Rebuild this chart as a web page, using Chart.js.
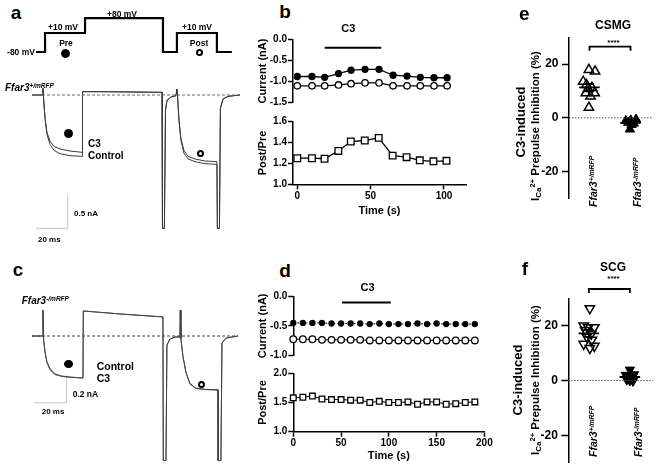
<!DOCTYPE html>
<html>
<head>
<meta charset="utf-8">
<script src="https://cdn.jsdelivr.net/npm/chart.js@4.4.1/dist/chart.umd.min.js"></script>
<style>
  body { margin: 0; background: #fff; }
  #fig { position: relative; width: 660px; height: 476px; overflow: hidden; background: #fff;
         font-family: "Liberation Sans", Arial, Helvetica, sans-serif; font-weight: bold; color: #000; }
  #fig canvas { position: absolute; }
  .t { position: absolute; white-space: nowrap; line-height: 1; }
  .t .up { font-size: 0.65em; position: relative; top: -0.5em; }
  .t .dn { font-size: 0.7em; position: relative; top: 0.3em; }
  .dot { position: absolute; border-radius: 50%; box-sizing: border-box; }
</style>
</head>
<body>
<div id="fig"></div>
<script>
// ---- panel a : voltage protocol (ms, mV), vertices of the step trace ----
const protoTime = [-4.4, 1.3, 1.3, 26.5, 26.5, 75.6, 75.6, 84.4, 84.4, 109.6, 109.6, 119];
const protoVolt = [-80, -80, 10, 10, 80, 80, -80, -80, 10, 10, -80, -80];

// ---- panel a : current traces, Ffar3+/mRFP (ms, nA) ----
const aTime = [-6.9, -0.6, 0, 0.3, 1.3, 2.5, 4.4, 6.9, 10.7, 17, 24.6, 24.9, 36, 75, 75.3, 76.5, 77.2, 78.1, 80.6, 83.8,
               84.4, 84.8, 85.7, 86.9, 88.8, 91.4, 95.8, 102.1, 109.6, 109.9, 111.2, 111.8, 113.4, 116.6, 124.1];
const aC3 = [0, 0, 0.1, -0.03, -0.35, -0.56, -0.69, -0.77, -0.81, -0.84, -0.86, 0.05, 0.05, 0.04, -2.0, -2.0, -0.23, -0.08, -0.03, -0.01,
             0.09, -0.02, -0.38, -0.65, -0.83, -0.92, -0.96, -0.99, -1.0, -2.0, -2.0, -0.2, -0.06, -0.02, 0];
const aControl = [0, 0, 0.1, -0.03, -0.35, -0.59, -0.74, -0.83, -0.88, -0.91, -0.92, 0.05, 0.05, 0.04, -2.0, -2.0, -0.23, -0.09, -0.03, -0.01,
                  0.09, -0.02, -0.38, -0.68, -0.87, -0.96, -1.0, -1.03, -1.04, -2.0, -2.0, -0.2, -0.06, -0.02, 0];
const aBarX = [-4.4, 15.6, 15.6];     // 20 ms
const aBarY = [-2.0, -2.0, -1.5];     // 0.5 nA

// ---- panel c : current traces, Ffar3-/mRFP (ms, nA) ----
const cTime = [-6.9, -0.6, 0, 0.4, 1.3, 2.5, 4.4, 7.6, 12, 17, 25.2, 25.4, 48.5, 75.6, 75.8, 77.5, 78.1, 80, 83.2, 86.3,
               86.5, 86.9, 88.2, 90.1, 92.6, 96.4, 102.1, 110.3, 110.4, 112.1, 112.8, 115.3, 122.9];
const cControl = [0, 0, 0.19, -0.03, -0.12, -0.19, -0.24, -0.28, -0.296, -0.303, -0.311, 0.185, 0.163, 0.141, -0.92, -0.92, -0.067, -0.022, -0.007, -0.007,
                  0.19, -0.02, -0.15, -0.27, -0.35, -0.385, -0.394, -0.397, -0.92, -0.92, -0.052, -0.015, 0];
const cC3 = [0, 0, 0.19, -0.03, -0.12, -0.2, -0.25, -0.285, -0.3, -0.305, -0.31, 0.185, 0.163, 0.141, -0.92, -0.92, -0.067, -0.022, -0.007, -0.007,
             0.19, -0.02, -0.15, -0.27, -0.355, -0.388, -0.396, -0.4, -0.92, -0.92, -0.052, -0.015, 0];
const cBarX = [-5.1, 14.9, 14.9];
const cBarY = [-0.494, -0.494, -0.294];

// ---- panel b (s, nA, ratio) ----
const bTime = [0, 10, 18.6, 28, 36.5, 46, 55.5, 65, 74.5, 83.5, 92.8, 101.7];
const bPre  = [-0.88, -0.88, -0.90, -0.81, -0.73, -0.71, -0.71, -0.85, -0.87, -0.90, -0.91, -0.91];
const bPost = [-1.10, -1.10, -1.10, -1.08, -1.05, -1.03, -1.03, -1.10, -1.10, -1.10, -1.10, -1.10];
const bRatio = [1.25, 1.25, 1.245, 1.32, 1.41, 1.42, 1.445, 1.275, 1.26, 1.23, 1.22, 1.225];
const bC3 = [18.6, 57];
const bTicks = [0, 50, 100];

// ---- panel d ----
const dTime = [0, 10, 20, 30, 40, 50, 60, 70, 80, 90, 100, 110, 120, 130, 140, 150, 160, 170, 180, 190];
const dPre  = [-0.45, -0.45, -0.45, -0.45, -0.46, -0.46, -0.46, -0.46, -0.47, -0.46, -0.47, -0.47, -0.47, -0.46, -0.47, -0.46, -0.47, -0.47, -0.47, -0.47];
const dPost = [-0.73, -0.73, -0.73, -0.74, -0.74, -0.74, -0.74, -0.74, -0.75, -0.75, -0.75, -0.75, -0.75, -0.75, -0.75, -0.75, -0.75, -0.75, -0.75, -0.75];
const dRatio = [1.58, 1.59, 1.61, 1.56, 1.55, 1.55, 1.54, 1.54, 1.50, 1.52, 1.50, 1.50, 1.51, 1.47, 1.51, 1.51, 1.47, 1.48, 1.50, 1.51];
const dC3 = [51, 102];
const dTicks = [0, 50, 100, 150, 200];

// ---- panels e / f : [x jitter, % inhibition] ----
const eWT = [[0.97, 17.9], [1.27, 17.3], [0.69, 13.5], [0.85, 12.3], [1.12, 11.2], [0.93, 10.8], [0.82, 9.2], [1.25, 9.2], [1.05, 8.0], [0.97, 3.8]];
const eKO = [[2.77, -1.1], [3.01, -0.9], [3.27, -0.6], [2.89, -1.8], [3.16, -2.1], [2.97, -4.3], [3.05, -2.6]];
const fWT = [[1.05, 26.3], [0.75, 20.0], [0.97, 19.4], [1.27, 19.4], [1.12, 17.0], [0.82, 18.4], [0.9, 16.0], [0.75, 13.3], [1.05, 11.8], [1.27, 12.6], [1.15, 14.8]];
const fKO = [[3.0, 3.9], [2.8, 2.0], [3.2, 2.2], [2.9, 1.0], [3.1, 0.8], [3.0, 0.0], [2.85, 0.3], [3.15, -0.2], [3.0, 1.5]];
const pctTicks = [-20, 0, 20];

const FONT = '"Liberation Sans", Arial, Helvetica, sans-serif';
Chart.defaults.font.family = FONT;
Chart.defaults.font.weight = 'bold';
Chart.defaults.color = '#000';
Chart.defaults.animation = false;
Chart.defaults.responsive = false;
Chart.defaults.events = [];
Chart.defaults.plugins.legend.display = false;
Chart.defaults.plugins.tooltip.enabled = false;

const fig = document.getElementById('fig');

function makeCanvas(x, y, w, h) {
    const c = document.createElement('canvas');
    c.width = w; c.height = h;
    c.style.left = x + 'px'; c.style.top = y + 'px';
    c.style.width = w + 'px'; c.style.height = h + 'px';
    fig.appendChild(c);
    return c;
}

// mode: c = centred, l = left edge / vertical centre, v = centred rotated, up = starts at point, reads upwards
function put(x, y, html, size, mode) {
    const d = document.createElement('div');
    d.className = 't';
    d.innerHTML = html;
    d.style.fontSize = size + 'px';
    d.style.left = x + 'px';
    d.style.top = y + 'px';
    if (mode === 'l') d.style.transform = 'translate(0,-50%)';
    else if (mode === 'v') d.style.transform = 'translate(-50%,-50%) rotate(-90deg)';
    else if (mode === 'up') { d.style.transformOrigin = '0 0'; d.style.transform = 'rotate(-90deg) translate(0,-50%)'; }
    else d.style.transform = 'translate(-50%,-50%)';
    fig.appendChild(d);
}

function dot(x, y, r, filled, bw) {
    const d = document.createElement('div');
    d.className = 'dot';
    d.style.left = (x - r) + 'px'; d.style.top = (y - r) + 'px';
    d.style.width = 2 * r + 'px'; d.style.height = 2 * r + 'px';
    d.style.background = filled ? '#000' : '#fff';
    d.style.border = (bw || 1.5) + 'px solid #000';
    fig.appendChild(d);
}

const pts = (xs, ys) => xs.map((x, i) => ({ x: x, y: ys[i] }));
const gene = sign => '<i>Ffar3</i><i class="up">' + sign + '/mRFP</i>';

function line(data, color, width, dash, axis) {
    const ds = { data: data, showLine: true, borderColor: color, borderWidth: width, borderDash: dash || [], pointRadius: 0, clip: false };
    if (axis) ds.yAxisID = axis;
    return ds;
}

function markers(data, style, r, filled, opts) {
    return Object.assign({
        data: data, showLine: true, borderColor: '#000', borderWidth: 1.3,
        pointStyle: style, pointRadius: r, pointBorderWidth: 1.3,
        pointBorderColor: '#000', pointBackgroundColor: filled ? '#000' : '#fff', clip: false
    }, opts || {});
}

// chart with hidden axes: canvas = plot area
function rawChart(canvas, xr, yScales, datasets) {
    const scales = { x: { type: 'linear', min: xr[0], max: xr[1], display: false } };
    for (const k in yScales) scales[k] = { type: 'linear', min: yScales[k][0], max: yScales[k][1], display: false };
    return new Chart(canvas, { type: 'scatter', data: { datasets: datasets }, options: { layout: { padding: 0 }, scales: scales } });
}

function yAxis(min, max, ticks, width, title, titlePad, fontSize, tickLen, tickPad, fmt) {
    return {
        type: 'linear', min: min, max: max,
        afterBuildTicks: s => { s.ticks = ticks.map(v => ({ value: v })); },
        ticks: { padding: tickPad, font: { size: fontSize }, color: '#000', autoSkip: false, callback: fmt },
        grid: { drawOnChartArea: false, tickLength: tickLen, tickColor: '#000', tickWidth: 1.5 },
        border: { color: '#000', width: 1.5 },
        title: { display: !!title, text: title, font: { size: 11 }, color: '#000', padding: { top: titlePad, bottom: 0 } },
        afterFit: s => { s.width = width; }
    };
}

function xAxis(min, max, ticks, height, titlePad) {
    return {
        type: 'linear', min: min, max: max,
        afterBuildTicks: s => { s.ticks = ticks.map(v => ({ value: v })); },
        ticks: { padding: 1, font: { size: 10 }, color: '#000', maxRotation: 0, autoSkip: false, callback: v => String(v) },
        grid: { drawOnChartArea: false, tickLength: 5, tickColor: '#000', tickWidth: 1.5 },
        border: { color: '#000', width: 1.5 },
        title: { display: true, text: 'Time (s)', font: { size: 11 }, color: '#000', padding: { top: 0, bottom: titlePad } },
        afterFit: s => { s.height = height; }
    };
}

const f1 = v => v.toFixed(1);

// ================= panel a =================
rawChart(makeCanvas(30, 0, 215, 235), [-8.19, 127.3],
    { y: [-2.1, 1.425], yV: [-946.9, 166.3] },
    [
        line(pts(protoTime, protoVolt), '#000', 2.2, [], 'yV'),
        line(pts([-6.9, 124.1], [0, 0]), '#666', 1, [3, 2]),
        line(pts(aTime, aControl), '#3a3a3a', 1),
        line(pts(aTime, aC3), '#3a3a3a', 1),
        line(pts(aBarX, aBarY), '#c4c4c4', 1)
    ]);

put(16, 12, 'a', 19);
put(21, 52, '-80 mV', 8.5);
put(63, 27, '+10 mV', 8.5);
put(122, 13.5, '+80 mV', 8.5);
put(197, 26.5, '+10 mV', 8.5);
put(66, 42.5, 'Pre', 8.5);
put(199, 42.5, 'Post', 8.5);
dot(65.7, 53.3, 4.5, true);
dot(199.3, 52.7, 3.6, false, 2);
put(5, 88, gene('+'), 10, 'l');
dot(68.3, 133.3, 4.3, true);
put(88, 143.5, 'C3', 10, 'l');
put(88, 155.5, 'Control', 10, 'l');
dot(200, 153.3, 3.5, false, 2);
put(74, 214, '0.5 nA', 8, 'l');
put(38, 239.5, '20 ms', 8, 'l');

// ================= panel c =================
rawChart(makeCanvas(30, 290, 215, 180), [-8.19, 127.3], { y: [-0.99, 0.34] },
    [
        line(pts([-6.9, 122.9], [0, 0]), '#444', 1, [3, 2]),
        line(pts(cTime, cControl), '#444', 1),
        line(pts(cTime, cC3), '#555', 1),
        line(pts(cBarX, cBarY), '#c4c4c4', 1)
    ]);
put(18, 269, 'c', 19);
put(21.7, 301, gene('-'), 10, 'l');
dot(68.3, 364, 4.3, true);
put(96.7, 366, 'Control', 10.5, 'l');
put(96.7, 378, 'C3', 10.5, 'l');
dot(201, 384.5, 3.5, false, 2);
put(72.7, 394, '0.2 nA', 8.5, 'l');
put(41.7, 412, '20 ms', 8, 'l');

// ================= panel b =================
new Chart(makeCanvas(250, 30, 222, 80), {
    type: 'scatter',
    data: { datasets: [
        line(pts(bC3, [-0.2, -0.2]), '#000', 2),
        markers(pts(bTime, bPost), 'circle', 3.2, false),
        markers(pts(bTime, bPre), 'circle', 3, true)
    ] },
    options: {
        layout: { padding: { top: 9.3, bottom: 7.3, left: 0, right: 4 } },
        scales: {
            x: { type: 'linear', min: -2.9, max: 115, display: false },
            y: yAxis(-1.5, 0, [-1.5, -1, -0.5, 0], 43, 'Current (nA)', 6, 10, 5, 1, f1)
        }
    }
});
new Chart(makeCanvas(250, 112, 222, 110), {
    type: 'scatter',
    data: { datasets: [ markers(pts(bTime, bRatio), 'rect', 4.7, false) ] },
    options: {
        layout: { padding: { top: 9.7, bottom: 0, left: 0, right: 4 } },
        scales: {
            x: xAxis(-2.9, 115, bTicks, 37.7, 4.4),
            y: yAxis(1.0, 1.6, [1.0, 1.2, 1.4, 1.6], 43, 'Post/Pre', 6.4, 10, 5, 1, f1)
        }
    }
});
put(285, 10.5, 'b', 19);
put(348.3, 28.3, 'C3', 11);

// ================= panel d =================
new Chart(makeCanvas(250, 285, 250, 80), {
    type: 'scatter',
    data: { datasets: [
        line(pts(dC3, [-0.1, -0.1]), '#000', 2),
        markers(pts(dTime, dPost), 'circle', 3.3, false, { borderWidth: 1 }),
        markers(pts(dTime, dPre), 'circle', 2.5, true, { borderWidth: 1, borderDash: [2, 2] })
    ] },
    options: {
        layout: { padding: { top: 11.7, bottom: 10, left: 0, right: 15.6 } },
        scales: {
            x: { type: 'linear', min: 0, max: 200, display: false },
            y: yAxis(-1.0, 0, [-1, -0.5, 0], 43.3, 'Current (nA)', 6, 10, 5, 1, f1)
        }
    }
});
new Chart(makeCanvas(250, 365, 250, 111), {
    type: 'scatter',
    data: { datasets: [ markers(pts(dTime, dRatio), 'rect', 4, false, { borderWidth: 1 }) ] },
    options: {
        layout: { padding: { top: 8.3, bottom: 0, left: 0, right: 15.6 } },
        scales: {
            x: xAxis(0, 200, dTicks, 44.3, 13.4),
            y: yAxis(1.0, 2.0, [1.0, 1.5, 2.0], 43.3, 'Post/Pre', 6.4, 10, 5, 1, f1)
        }
    }
});
put(285, 270, 'd', 19);
put(367.5, 287.3, 'C3', 11);

// ================= panels e / f =================
function meanSem(group) {
    const ys = group.map(p => p[1]);
    const m = ys.reduce((a, b) => a + b, 0) / ys.length;
    const sd = Math.sqrt(ys.reduce((a, b) => a + (b - m) * (b - m), 0) / (ys.length - 1));
    return [m, sd / Math.sqrt(ys.length)];
}

function errorBar(group, gx) {
    const [m, s] = meanSem(group);
    return line([
        { x: gx - 0.5, y: m }, { x: gx + 0.5, y: m }, { x: gx, y: null },
        { x: gx, y: m - s }, { x: gx, y: m + s }, { x: gx, y: null },
        { x: gx - 0.22, y: m + s }, { x: gx + 0.22, y: m + s }, { x: gx, y: null },
        { x: gx - 0.22, y: m - s }, { x: gx + 0.22, y: m - s }
    ], '#000', 1.8);
}

function scatterPanel(canvas, wt, ko, rot, yWidth, pad, xMax, bracketY) {
    const toXY = g => g.map(p => ({ x: p[0], y: p[1] }));
    return new Chart(canvas, {
        type: 'scatter',
        data: { datasets: [
            line(pts([0, xMax], [0, 0]), '#555', 1, [1.5, 1.5]),
            line(pts([1, 1, 3, 3], [bracketY - 1.5, bracketY, bracketY, bracketY - 1.5]), '#000', 1.8),
            errorBar(wt, 1),
            errorBar(ko, 3),
            { data: toXY(wt), pointStyle: 'triangle', pointRotation: rot, pointRadius: 5.4, pointBorderWidth: 1.5,
              pointBorderColor: '#000', pointBackgroundColor: 'rgba(255,255,255,0)', clip: false },
            { data: toXY(ko), pointStyle: 'triangle', pointRotation: rot, pointRadius: 5.4, pointBorderWidth: 1,
              pointBorderColor: '#000', pointBackgroundColor: '#000', clip: false }
        ] },
        options: {
            layout: { padding: pad },
            scales: {
                x: { type: 'linear', min: 0, max: xMax, display: false },
                y: yAxis(-30, 30, pctTicks, yWidth, '', 0, 12, 7, 3.5, v => String(v))
            }
        }
    });
}

const ica = 'I<span class="dn">Ca</span><span class="up">2+</span> Prepulse Inhibition (%)';

scatterPanel(makeCanvas(470, 0, 190, 230), eWT, eKO, 0, 99, { top: 37.3, bottom: 31.7, left: 0, right: 0 }, 4.1, 26.5);
put(524.3, 12.7, 'e', 19);
put(613, 25, 'CSMG', 12);
put(613.5, 43, '****', 8);
put(520, 122, 'C3-induced', 13, 'v');
put(535.5, 126, ica, 11.5, 'v');
put(593.3, 206.7, gene('+'), 10.5, 'up');
put(637, 206.7, gene('-'), 10.5, 'up');

scatterPanel(makeCanvas(470, 240, 190, 236), fWT, fKO, 180, 98.3, { top: 58.3, bottom: 13.3, left: 0, right: 0 }, 4.13, 33.4);
put(525, 268, 'f', 19);
put(613, 267, 'SCG', 12);
put(613.5, 279, '****', 8);
put(517, 380, 'C3-induced', 13, 'v');
put(535.5, 380, ica, 11.5, 'v');
put(593.3, 457, gene('+'), 10.5, 'up');
put(638, 457, gene('-'), 10.5, 'up');
</script>
</body>
</html>
